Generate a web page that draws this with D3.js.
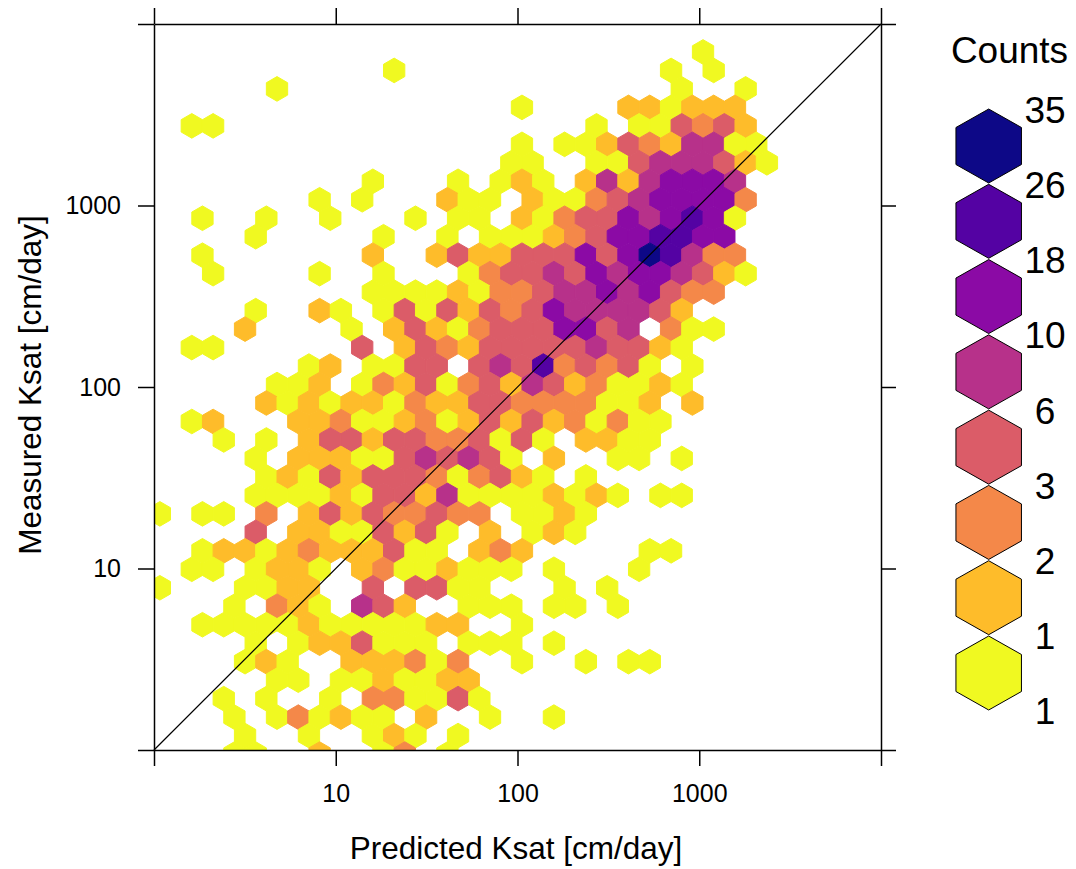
<!DOCTYPE html>
<html lang="en">
	<head>
		<meta charset="utf-8">
		<title>Measured vs predicted Ksat hexbin</title>
		<script src="https://cdn.jsdelivr.net/npm/d3@7"></script>
		<style>
			html, body { margin: 0; background: #fff; }
			text { font-family: 'Liberation Sans', Arial, sans-serif; fill: #000; }
			.axis line, .axis path { stroke: #000; stroke-width: 1.5; }
			.axis text { font-size: 25px; }
			.title { font-size: 31.5px; text-anchor: middle; }
			.legendText { font-size: 37px; text-anchor: middle; }
		</style>
	</head>
	<body>
		<script>
			var w = 1076, h = 869;
			var left = 154, right = 881, top_ = 24, bottom = 750;

			// hexbin grid in log10 units
			var binOriginX = -0.0264, binTopY = 3.846, binW = 0.1172, binH = 0.1018;

			// one list per bin row, top to bottom: [column, colour level]
			var hexRows = [
				[[26,1]],
				[[11,1],[24,1],[26,1]],
				[[6,1],[25,1],[28,1]],
				[[17,1],[22,2],[23,2],[24,1],[25,2],[26,2],[27,2]],
				[[2,1],[3,1],[21,1],[23,1],[24,1],[25,4],[26,3],[27,4],[28,2]],
				[[17,1],[19,1],[20,1],[21,2],[22,4],[23,3],[24,2],[25,5],[26,5],[27,1],[28,1]],
				[[17,1],[18,1],[21,1],[22,1],[23,4],[24,5],[25,5],[26,5],[27,4],[28,2],[29,1]],
				[[10,1],[14,1],[16,1],[17,2],[18,1],[20,2],[21,5],[22,2],[23,5],[24,6],[25,6],[26,6],[27,5]],
				[[8,1],[10,1],[14,2],[15,1],[16,1],[18,2],[19,1],[20,1],[21,3],[22,4],[23,5],[24,6],[25,6],[26,6],[27,6],[28,3]],
				[[2,1],[5,1],[8,1],[12,1],[14,1],[15,1],[17,2],[18,1],[19,3],[20,4],[21,4],[22,6],[23,5],[24,6],[25,7],[26,6],[27,1]],
				[[5,1],[11,1],[14,1],[16,1],[17,1],[18,1],[19,2],[20,3],[21,4],[22,6],[23,6],[24,7],[25,7],[26,6],[27,6]],
				[[2,1],[10,2],[13,2],[14,4],[15,2],[16,2],[17,4],[18,4],[19,4],[20,6],[21,4],[22,6],[23,8],[24,7],[25,5],[26,3],[27,3]],
				[[3,1],[8,1],[11,1],[15,1],[16,3],[17,4],[18,4],[19,5],[20,4],[21,6],[22,5],[23,6],[24,6],[25,5],[26,4],[27,2],[28,1]],
				[[10,1],[11,1],[12,1],[13,1],[14,2],[15,1],[16,3],[17,3],[18,4],[19,5],[20,5],[21,6],[22,5],[23,6],[24,4],[25,3],[26,3]],
				[[5,1],[8,2],[9,1],[11,1],[12,4],[13,1],[14,4],[15,2],[16,4],[17,3],[18,4],[19,6],[20,5],[21,5],[22,5],[23,5],[24,4],[25,2]],
				[[4,2],[9,1],[11,2],[12,4],[13,2],[14,1],[15,3],[16,4],[17,4],[18,4],[19,6],[20,6],[21,4],[22,5],[24,3],[25,1],[26,1]],
				[[2,1],[3,1],[10,4],[12,2],[13,4],[14,3],[15,2],[16,4],[17,4],[18,4],[19,4],[20,4],[21,5],[22,4],[23,4],[24,2],[25,1]],
				[[7,1],[8,2],[10,1],[11,1],[12,4],[13,4],[15,4],[16,5],[17,4],[18,7],[19,3],[20,4],[21,3],[22,4],[23,1],[25,1]],
				[[6,1],[7,1],[8,2],[10,1],[11,3],[12,2],[13,4],[14,1],[15,3],[16,4],[17,2],[18,5],[19,4],[20,2],[21,3],[22,1],[23,1],[24,2],[25,1]],
				[[5,2],[6,1],[7,2],[8,1],[9,2],[10,2],[11,1],[12,3],[13,2],[14,2],[15,4],[16,4],[17,3],[18,3],[19,3],[20,3],[21,1],[22,1],[23,2],[25,2]],
				[[2,1],[3,2],[7,2],[8,2],[9,3],[10,1],[11,1],[12,2],[13,3],[14,1],[15,2],[16,4],[17,2],[18,4],[19,2],[20,3],[21,1],[22,3],[23,1],[24,1]],
				[[3,1],[5,1],[7,2],[8,4],[9,4],[10,2],[11,4],[12,4],[13,3],[14,3],[15,4],[16,1],[17,4],[18,1],[20,2],[21,2],[22,1],[23,1]],
				[[5,1],[7,2],[8,2],[9,2],[10,1],[11,1],[12,4],[13,5],[14,4],[15,5],[16,4],[17,1],[19,2],[22,1],[23,1],[25,1]],
				[[5,1],[6,2],[7,1],[8,4],[9,2],[10,4],[11,4],[12,4],[13,3],[14,1],[15,3],[16,4],[17,2],[18,1],[20,1]],
				[[5,1],[6,1],[7,1],[8,1],[9,2],[10,1],[11,4],[12,4],[13,2],[14,5],[15,1],[16,1],[17,1],[18,1],[19,2],[20,1],[21,2],[22,1],[24,1],[25,1]],
				[[0,1],[2,1],[3,1],[5,3],[7,2],[8,4],[9,2],[10,4],[11,3],[12,3],[13,4],[14,3],[15,3],[17,1],[18,1],[19,2],[20,1]],
				[[5,4],[7,2],[8,2],[9,1],[10,1],[11,4],[12,2],[13,4],[14,1],[16,2],[18,1],[19,2],[20,1]],
				[[2,1],[3,2],[4,2],[5,1],[6,2],[7,3],[8,2],[9,2],[10,2],[11,4],[12,1],[13,1],[15,2],[16,3],[17,2],[23,1],[24,1]],
				[[2,1],[3,1],[5,1],[6,2],[7,2],[8,1],[10,2],[11,3],[12,1],[13,1],[14,2],[15,1],[16,1],[17,1],[19,1],[23,1]],
				[[0,1],[4,1],[5,1],[6,2],[7,2],[10,4],[12,4],[13,4],[14,1],[15,1],[19,1],[21,1]],
				[[4,1],[6,3],[7,2],[8,1],[10,5],[11,4],[12,2],[15,1],[16,1],[17,1],[19,1],[20,1],[22,1]],
				[[2,1],[3,1],[4,1],[5,1],[6,1],[7,2],[8,1],[9,1],[10,1],[11,1],[12,1],[13,2],[14,2],[17,1]],
				[[5,1],[7,1],[8,2],[9,2],[10,4],[11,1],[12,1],[13,1],[15,1],[16,1],[17,1],[19,1]],
				[[4,1],[5,2],[6,1],[9,2],[10,2],[11,2],[12,3],[13,1],[14,3],[17,1],[20,1],[22,1],[23,1]],
				[[6,1],[7,1],[9,1],[10,1],[11,2],[12,1],[13,1],[14,2],[15,2]],
				[[3,1],[5,1],[8,1],[10,3],[11,3],[12,1],[13,1],[14,4],[15,1]],
				[[4,1],[6,1],[7,3],[8,1],[9,2],[10,1],[11,1],[13,2],[16,1],[19,1]],
				[[4,1],[7,1],[10,1],[11,2],[12,1],[14,1]],
				[[4,1],[5,1],[8,2],[11,1],[12,3],[14,1]]
			];

			var levelColors = ["#F0F921", "#FEBC2A", "#F48849", "#DB5C68", "#B7318A", "#8B0AA5", "#5402A3", "#0D0887"];
			var legendLevels = [8, 7, 6, 5, 4, 3, 2, 1];
			var legendLabels = ["35", "26", "18", "10", "6", "3", "2", "1", "1"];
			var tickValues = [1, 10, 100, 1000, 10000];
			var tickLabels = ["", "10", "100", "1000", ""];

			var x = d3.scaleLog().domain([1, 10000]).range([left, right]);
			var y = d3.scaleLog().domain([1, 10000]).range([bottom, top_]);
			var color = d3.scaleOrdinal().domain([1, 2, 3, 4, 5, 6, 7, 8]).range(levelColors);

			var svg = d3.select("body").append("svg")
				.attr("width", w)
				.attr("height", h)
				.style("display", "block");

			svg.append("clipPath").attr("id", "panel")
				.append("rect")
				.attr("x", left).attr("y", top_)
				.attr("width", right - left).attr("height", bottom - top_);

			// turn the row lists into bins in log10 space
			var bins = [];
			hexRows.forEach(function(cells, r) {
				cells.forEach(function(c) {
					bins.push({
						lx: binOriginX + binW * (c[0] + (r % 2 ? 0.5 : 0)),
						ly: binTopY - binH * r,
						level: c[1]
					});
				});
			});

			function hexPath(d) {
				var pts = [[0, 2/3], [.5, 1/3], [.5, -1/3], [0, -2/3], [-.5, -1/3], [-.5, 1/3]];
				return "M" + pts.map(function(p) {
					return x(Math.pow(10, d.lx + p[0] * binW)) + "," + y(Math.pow(10, d.ly + p[1] * binH));
				}).join("L") + "Z";
			}

			svg.append("g").attr("clip-path", "url(#panel)")
				.selectAll("path")
				.data(bins)
				.enter()
				.append("path")
				.attr("d", hexPath)
				.attr("fill", function(d) { return color(d.level); })
				.attr("stroke", function(d) { return color(d.level); })
				.attr("stroke-width", 1);

			// 1:1 line
			svg.append("line")
				.attr("x1", x(1)).attr("y1", y(1))
				.attr("x2", x(10000)).attr("y2", y(10000))
				.attr("stroke", "#000").attr("stroke-width", 1.2);

			function fmt(d, i) { return tickLabels[i]; }

			svg.append("g").attr("class", "axis")
				.attr("transform", "translate(0," + bottom + ")")
				.call(d3.axisBottom(x).tickValues(tickValues).tickFormat(fmt).tickSize(16).tickSizeOuter(0).tickPadding(18));
			svg.append("g").attr("class", "axis")
				.attr("transform", "translate(0," + top_ + ")")
				.call(d3.axisTop(x).tickValues(tickValues).tickFormat("").tickSize(16).tickSizeOuter(0));
			svg.append("g").attr("class", "axis")
				.attr("transform", "translate(" + left + ",0)")
				.call(d3.axisLeft(y).tickValues(tickValues).tickFormat(fmt).tickSize(16).tickSizeOuter(0).tickPadding(17));
			svg.append("g").attr("class", "axis")
				.attr("transform", "translate(" + right + ",0)")
				.call(d3.axisRight(y).tickValues(tickValues).tickFormat("").tickSize(15).tickSizeOuter(0));
			svg.selectAll(".axis text").attr("font-family", null);

			svg.append("text").attr("class", "title")
				.attr("x", 516).attr("y", 859)
				.text("Predicted Ksat [cm/day]");
			svg.append("text").attr("class", "title")
				.attr("transform", "translate(41,385) rotate(-90)")
				.text("Measured Ksat [cm/day]");

			// legend, one regular hexagon per colour level
			var legendX = 988.7, legendW = 65.5, legendH = 74;
			var legendY = d3.scaleLinear().domain([0, 7]).range([146, 673]);
			var labelY = d3.scaleLinear().domain([0, 8]).range([110.5, 711.5]);

			svg.append("text").attr("class", "legendText")
				.attr("x", 1009.5).attr("y", 63)
				.text("Counts");

			svg.selectAll(".legendHex")
				.data(legendLevels)
				.enter()
				.append("path")
				.attr("class", "legendHex")
				.attr("d", function(d, i) {
					var cy = legendY(i), a = legendW / 2, b = legendH / 2;
					return "M" + legendX + "," + (cy - b)
						+ "L" + (legendX + a) + "," + (cy - b / 2)
						+ "L" + (legendX + a) + "," + (cy + b / 2)
						+ "L" + legendX + "," + (cy + b)
						+ "L" + (legendX - a) + "," + (cy + b / 2)
						+ "L" + (legendX - a) + "," + (cy - b / 2) + "Z";
				})
				.attr("fill", function(d) { return color(d); })
				.attr("stroke", "#000")
				.attr("stroke-width", 1);

			svg.selectAll(".legendLabel")
				.data(legendLabels)
				.enter()
				.append("text")
				.attr("class", "legendText legendLabel")
				.attr("x", 1045)
				.attr("y", function(d, i) { return labelY(i) + 12.5; })
				.text(function(d) { return d; });
		</script>
	</body>
</html>
